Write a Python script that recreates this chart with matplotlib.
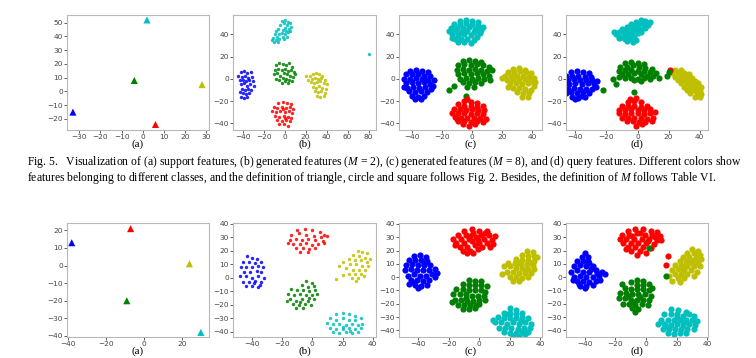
import matplotlib
matplotlib.use("Agg")
import matplotlib.pyplot as plt

# ---------------- data ----------------
# top row, panel (a): support features (one triangle per class)
top_a_x = [2, -4, 28, -33, 6]
top_a_y = [52, 8, 5, -15, -24]
top_a_c = ['c', 'g', 'y', 'b', 'r']

# top row, panel (b): generated features (M = 2)
top_b_cyan = [(-3,52),(0,53),(3,51),(5,50),(-1,50),(2,48),(6,47),(-4,48),(0,46),(4,45),(-2,44),(1,43),(-6,45),(-8,43),(-3,41),
              (3,42),(-5,40),(0,40),(-9,40),(-7,38),(-2,38),(-11,37),(-5,36),(-8,35),(-1,36),(-10,33),(-6,33),(2,38),(5,43),(-12,35),(80,22)]
top_b_green = [(-8,12),(-5,14),(-2,13),(1,12),(4,14),(7,11),(-9,8),(-6,9),(-3,8),(0,9),(3,7),(6,8),(9,6),(-10,4),(-7,5),(-4,3),
               (-1,5),(2,4),(5,3),(8,2),(-8,0),(-5,-1),(-2,1),(1,0),(4,-1),(7,-2),(-3,-4),(3,-4),(0,-2),(10,4)]
top_b_blue = [(-42,6),(-39,7),(-36,5),(-32,6),(-44,3),(-41,2),(-38,3),(-35,1),(-31,2),(-43,-1),(-40,-1),(-37,-2),(-34,-1),(-30,-2),
              (-42,-5),(-39,-4),(-36,-6),(-33,-5),(-29,-6),(-41,-9),(-38,-10),(-35,-9),(-32,-10),(-43,-12),(-40,-13),(-37,-14),
              (-34,-13),(-42,-16),(-39,-17),(-36,-16)]
top_b_yellow = [(24,3),(27,4),(30,5),(33,4),(36,3),(26,0),(29,1),(32,0),(35,1),(38,-1),(25,-3),(28,-4),(31,-3),(34,-2),(37,-4),
                (40,-5),(27,-7),(30,-8),(33,-6),(36,-8),(39,-9),(29,-11),(32,-12),(35,-11),(38,-13),(31,-15),(34,-16),(37,-15),(20,3),(22,-1)]
top_b_red = [(-6,-22),(-2,-21),(2,-22),(6,-23),(-10,-25),(-7,-26),(-3,-25),(1,-26),(5,-25),(8,-27),(-12,-29),(-8,-30),(-4,-29),
             (0,-30),(4,-29),(7,-31),(-9,-33),(-5,-34),(-1,-33),(3,-34),(6,-35),(-7,-37),(-3,-38),(1,-37),(5,-38),(-5,-41),(-1,-41),
             (3,-42),(0,-35),(-2,-27)]

# top row, panel (c): generated features (M = 8)
top_c_cyan = [(-8,52),(-4,53),(0,52),(4,51),(-12,49),(-8,49),(-4,50),(0,49),(4,48),(7,47),(-14,46),(-10,46),(-6,46),(-2,47),(2,45),
              (6,44),(-15,43),(-11,43),(-7,42),(-3,43),(1,42),(5,41),(-13,40),(-9,39),(-5,40),(-1,39),(3,38),(-11,36),(-7,36),(-3,36),
              (1,35),(-9,33),(-5,33),(-1,32),(-13,37),(3,44)]
top_c_green = [(-6,16),(-2,17),(2,16),(6,15),(-9,12),(-5,13),(-1,12),(3,13),(7,12),(11,11),(-10,8),(-6,9),(-2,8),(2,9),(6,8),(10,7),
               (13,8),(-9,4),(-5,5),(-1,4),(3,5),(7,4),(11,3),(-8,0),(-4,1),(0,0),(4,1),(8,0),(12,-1),(-6,-3),(-2,-4),(2,-3),(6,-4),
               (-3,-7),(1,-7),(-12,-6),(-15,-10),(-4,-15)]
top_c_blue = [(-41,7),(-37,8),(-33,7),(-29,6),(-44,4),(-40,4),(-36,4),(-32,3),(-28,3),(-45,0),(-41,0),(-37,1),(-33,0),(-29,-1),
              (-25,-1),(-44,-4),(-40,-3),(-36,-4),(-32,-3),(-28,-5),(-43,-8),(-39,-7),(-35,-8),(-31,-7),(-27,-9),(-42,-11),(-38,-12),
              (-34,-11),(-30,-12),(-40,-15),(-36,-16),(-32,-15),(-38,-18),(-34,-18),(-26,-6),(-45,-7)]
top_c_yellow = [(27,9),(31,10),(35,8),(24,6),(28,6),(32,7),(36,6),(39,5),(22,3),(26,3),(30,3),(34,3),(38,2),(41,1),(23,-1),(27,0),
                (31,-1),(35,0),(39,-2),(42,-3),(25,-4),(29,-4),(33,-5),(37,-4),(41,-6),(27,-8),(31,-8),(35,-9),(39,-10),(30,-12),
                (34,-13),(38,-13),(33,-16),(37,-16),(20,1),(24,-7)]
top_c_red = [(-5,-20),(-1,-21),(3,-22),(-9,-23),(-5,-24),(-1,-24),(3,-25),(7,-24),(-12,-27),(-8,-27),(-4,-28),(0,-27),(4,-28),(8,-28),
             (-13,-31),(-9,-31),(-5,-31),(-1,-32),(3,-31),(7,-32),(-11,-34),(-7,-35),(-3,-35),(1,-35),(5,-35),(9,-36),(-9,-38),(-5,-38),
             (-1,-39),(3,-38),(7,-39),(-6,-41),(-2,-42),(2,-41),(-3,-18),(-10,-36)]

# top row, panel (d): query features
top_d_cyan = [(2,53),(5,52),(8,51),(-1,51),(3,50),(6,49),(-4,49),(0,48),(4,47),(-7,47),(-3,46),(1,45),(5,46),(-10,45),(-6,44),(-2,43),
              (2,42),(-12,42),(-8,41),(-4,40),(0,41),(-14,40),(-10,38),(-6,38),(-2,38),(-12,37),(-8,36),(-4,36),(-1,35),(-7,34),(-3,33),
              (7,48),(-15,42),(-9,43),(-5,42),(-1,47)]
top_d_green = [(-8,14),(-4,15),(0,14),(4,13),(-11,11),(-7,11),(-3,12),(1,11),(5,10),(9,9),(-12,7),(-8,8),(-4,8),(0,7),(4,7),(8,6),
               (-10,4),(-6,4),(-2,5),(2,4),(6,3),(10,3),(-8,1),(-4,1),(0,0),(4,1),(8,0),(-12,2),(-2,-1),(2,-2),(-16,0),(-22,-10),
               (12,5),(14,1),(-2,-12),(-14,-5),(20,6),(19,3)]
top_d_blue = [(-43,6),(-39,7),(-35,6),(-31,5),(-46,3),(-42,3),(-38,3),(-34,2),(-30,2),(-45,-1),(-41,0),(-37,-1),(-33,-1),(-29,-1),
              (-26,-2),(-44,-5),(-40,-4),(-36,-5),(-32,-4),(-28,-5),(-45,-9),(-41,-8),(-37,-9),(-33,-9),(-29,-9),(-43,-12),(-39,-13),
              (-35,-12),(-31,-13),(-42,-16),(-38,-17),(-34,-16),(-40,-18),(-27,-7),(-46,-13),(-36,-15)]
top_d_yellow = [(24,8),(28,8),(22,5),(26,5),(30,5),(33,4),(24,2),(28,2),(32,1),(35,1),(26,-1),(30,-1),(34,-2),(37,-2),(28,-4),(32,-4),
                (36,-5),(39,-4),(30,-7),(34,-7),(38,-8),(41,-7),(32,-10),(36,-10),(40,-11),(34,-13),(38,-13),(41,-14),(37,-16),(40,-16),
                (27,6),(31,3),(35,-5),(29,0),(33,-9),(39,-12)]
top_d_red = [(-1,-17),(-6,-21),(-2,-20),(2,-21),(-10,-24),(-6,-24),(-2,-24),(2,-25),(6,-24),(-12,-28),(-8,-28),(-4,-27),(0,-28),(4,-28),
             (8,-27),(-12,-31),(-8,-32),(-4,-31),(0,-31),(4,-32),(8,-31),(11,-30),(-10,-35),(-6,-35),(-2,-35),(2,-35),(6,-36),(10,-35),
             (-7,-38),(-3,-38),(1,-39),(5,-39),(-1,-42),(3,-41),(9,-38),(-5,-18),(21,8)]

# bottom row, panel (a)
bot_a_x = [-7, -38, 24, -9, 30]
bot_a_y = [21, 13, 1, -20, -38]
bot_a_c = ['r', 'b', 'y', 'g', 'c']

# bottom row, panel (b)
bot_b_red = [(-10,35),(-5,36),(0,35),(5,34),(8,32),(-14,32),(-9,33),(-4,32),(1,31),(6,30),(10,31),(-15,28),(-11,29),(-7,28),(-3,29),
             (2,28),(7,27),(-13,25),(-8,25),(-4,26),(0,24),(4,25),(8,26),(-11,22),(-6,22),(-2,21),(2,22),(-8,19),(-3,19),(-16,26)]
bot_b_blue = [(-43,16),(-40,15),(-37,14),(-46,12),(-42,12),(-38,11),(-34,12),(-47,8),(-44,8),(-40,8),(-36,9),(-33,8),(-45,4),(-41,4),
              (-37,5),(-34,4),(-48,1),(-44,1),(-40,0),(-36,1),(-32,0),(-46,-3),(-42,-3),(-38,-2),(-34,-3),(-44,-6),(-40,-6),(-36,-7),
              (-39,-4),(-35,-5)]
bot_b_yellow = [(30,20),(33,19),(36,18),(27,17),(31,16),(35,15),(24,14),(28,13),(32,13),(36,12),(20,12),(25,10),(29,10),(33,9),(37,9),
                (18,9),(22,7),(27,6),(31,6),(35,6),(24,3),(28,3),(32,3),(26,0),(30,0),(16,-1),(20,2),(29,-2),(34,1),(38,14)]
bot_b_green = [(-4,-2),(0,-4),(-7,-5),(-3,-7),(1,-6),(-14,-8),(-10,-9),(-6,-9),(-2,-10),(2,-9),(-16,-12),(-12,-13),(-8,-12),(-4,-13),
               (0,-13),(3,-12),(-15,-16),(-11,-17),(-7,-16),(-3,-17),(1,-16),(-13,-19),(-9,-20),(-5,-19),(-1,-20),(-11,-22),(-6,-22),
               (-17,-17),(-2,-15),(-8,-18)]
bot_b_cyan = [(16,-27),(20,-26),(24,-27),(28,-28),(12,-30),(16,-31),(20,-30),(24,-31),(28,-31),(32,-30),(10,-33),(14,-34),(18,-34),
              (22,-35),(26,-34),(30,-35),(33,-34),(12,-37),(16,-38),(20,-38),(24,-37),(28,-38),(32,-37),(14,-40),(18,-41),(22,-40),
              (26,-41),(30,-40),(20,-36),(25,-39)]

# bottom row, panel (c)
bot_c_red = [(-10,35),(-5,36),(0,35),(5,35),(-14,32),(-9,32),(-4,33),(1,32),(6,32),(10,31),(-17,29),(-12,29),(-7,29),(-2,30),(3,29),
             (8,28),(-15,26),(-10,26),(-5,27),(0,26),(5,26),(9,25),(-13,23),(-8,23),(-3,24),(2,23),(7,23),(-11,20),(-6,20),(-1,21),
             (-8,18),(-4,18),(-16,24),(4,33),(-1,28),(-6,31)]
bot_c_blue = [(-43,16),(-39,17),(-35,15),(-46,13),(-42,13),(-38,13),(-34,12),(-48,9),(-44,10),(-40,9),(-36,9),(-32,9),(-49,5),(-45,6),
              (-41,5),(-37,5),(-33,5),(-29,6),(-47,1),(-43,2),(-39,1),(-35,1),(-31,2),(-45,-2),(-41,-2),(-37,-3),(-33,-2),(-42,-6),
              (-38,-7),(-34,-6),(-29,0),(-46,-5),(-40,-8),(-36,11),(-28,3),(-44,-4)]
bot_c_yellow = [(31,20),(35,19),(28,17),(32,16),(36,16),(24,14),(28,13),(32,13),(36,12),(38,15),(19,11),(23,11),(27,10),(31,10),(35,9),
                (16,8),(20,8),(24,7),(28,7),(32,6),(36,6),(18,4),(22,4),(26,3),(30,3),(34,3),(20,0),(24,0),(28,-1),(32,0),(22,-3),
                (26,-3),(15,2),(30,5),(25,11),(34,11)]
bot_c_green = [(-7,-2),(-3,-3),(1,-3),(-11,-5),(-7,-6),(-3,-6),(1,-6),(5,-7),(-15,-9),(-11,-9),(-7,-10),(-3,-10),(1,-10),(4,-11),
               (-17,-13),(-13,-13),(-9,-13),(-5,-14),(-1,-14),(3,-14),(-16,-17),(-12,-17),(-8,-18),(-4,-18),(0,-17),(4,-17),(-14,-21),
               (-10,-21),(-6,-21),(-2,-21),(-11,-24),(-7,-24),(-18,-19),(-3,-23),(0,-20),(-9,-16)]
bot_c_cyan = [(20,-23),(24,-25),(16,-27),(20,-27),(24,-28),(28,-27),(12,-30),(16,-31),(20,-31),(24,-31),(28,-30),(32,-31),(10,-34),
              (14,-34),(18,-35),(22,-34),(26,-35),(30,-34),(34,-35),(13,-38),(17,-38),(21,-38),(25,-39),(29,-38),(33,-38),(16,-41),
              (20,-42),(24,-42),(28,-41),(32,-41),(22,-44),(26,-44),(9,-32),(18,-28),(27,-33),(30,-43)]

# bottom row, panel (d)
bot_d_red = [(-12,35),(-7,36),(-2,36),(3,35),(7,34),(-16,32),(-11,32),(-6,33),(-1,32),(4,32),(9,31),(-17,29),(-13,29),(-8,29),(-3,29),
             (2,29),(7,28),(10,28),(-15,26),(-10,26),(-5,26),(0,26),(5,25),(-12,23),(-7,23),(-2,23),(3,22),(-10,20),(-4,20),(-13,21),
             (0,18),(-6,17),(6,30),(-4,33),(-9,31),(1,27),(14,16),(13,9)]
bot_d_blue = [(-40,18),(-42,15),(-38,15),(-45,12),(-41,12),(-37,11),(-47,8),(-43,9),(-39,8),(-35,8),(-49,4),(-45,5),(-41,4),(-37,4),
              (-33,5),(-29,4),(-47,0),(-43,1),(-39,0),(-35,0),(-31,1),(-27,2),(-45,-3),(-41,-3),(-37,-4),(-33,-3),(-43,-7),(-39,-7),
              (-35,-6),(-48,-2),(-30,-2),(-38,12),(-44,-5),(-40,-8),(-32,3),(-36,6)]
bot_d_yellow = [(30,21),(34,20),(27,18),(31,18),(35,17),(24,15),(28,15),(32,14),(36,14),(22,12),(26,12),(30,11),(34,11),(19,9),(23,9),
                (27,8),(31,8),(35,8),(17,5),(21,6),(25,5),(29,5),(33,4),(19,2),(23,2),(27,2),(31,1),(21,-1),(25,-1),(17,-3),(22,-4),
                (15,1),(29,12),(33,16),(26,9),(24,6)]
bot_d_green = [(-6,-2),(-2,-3),(-10,-4),(-6,-6),(-2,-6),(2,-5),(-14,-8),(-10,-9),(-6,-9),(-2,-9),(2,-10),(-17,-12),(-13,-12),(-9,-13),
               (-5,-13),(-1,-13),(3,-14),(-18,-16),(-14,-16),(-10,-17),(-6,-17),(-2,-17),(2,-17),(-15,-20),(-11,-20),(-7,-21),(-3,-20),
               (1,-21),(-9,-23),(-5,-24),(-7,-26),(4,-8),(-12,-14),(-4,-15),(-8,-19),(-16,-5),(2,22),(13,1)]
bot_d_cyan = [(16,-24),(21,-25),(26,-26),(12,-28),(16,-28),(20,-28),(24,-29),(28,-28),(31,-29),(10,-32),(14,-32),(18,-32),(22,-32),
              (26,-32),(30,-32),(33,-33),(8,-35),(12,-35),(16,-36),(20,-35),(24,-36),(28,-35),(32,-36),(11,-39),(15,-39),(19,-39),
              (23,-39),(27,-39),(31,-39),(14,-42),(18,-43),(22,-42),(26,-42),(20,-30),(25,-34),(13,-37)]

labels = ["(a)", "(b)", "(c)", "(d)"]
caption_1 = ("Fig. 5.   Visualization of (a) support features, (b) generated features ($M$ = 2), (c) generated features "
             "($M$ = 8), and (d) query features. Different colors show")
caption_2 = ("features belonging to different classes, and the definition of triangle, circle and square follows Fig. 2. "
             "Besides, the definition of $M$ follows Table VI.")

# ---------------- figure ----------------
W, H = 756, 358
plt.rcParams['mathtext.fontset'] = 'custom'
plt.rcParams['mathtext.it'] = 'Liberation Serif:italic'
plt.rcParams['mathtext.rm'] = 'Liberation Serif'
fig = plt.figure(figsize=(W / 100, H / 100), dpi=100)


def make_ax(left, top, width, height):
    ax = fig.add_axes([left / W, 1 - (top + height) / H, width / W, height / H])
    for s in ax.spines.values():
        s.set_color('#b8b8b8')
        s.set_linewidth(0.8)
    ax.tick_params(labelsize=5.3, length=2, width=0.6, pad=1, colors='#444444')
    return ax


def clusters(ax, groups, size, alpha):
    for pts, col in groups:
        ax.scatter([p[0] for p in pts], [p[1] for p in pts], s=size, c=col, alpha=alpha, linewidths=0)


lefts = [67, 233, 399, 566]
widths = [142, 143, 143, 142]

# top row
ax = make_ax(lefts[0], 15, widths[0], 115)
ax.scatter(top_a_x, top_a_y, c=top_a_c, marker='^', s=26, linewidths=0)
ax.set_xlim(-35.8, 31.3); ax.set_ylim(-28, 55.6)
ax.set_xticks(range(-30, 31, 10)); ax.set_yticks(range(-20, 51, 10))

ax = make_ax(lefts[1], 15, widths[1], 115)
clusters(ax, [(top_b_cyan, 'c'), (top_b_green, 'g'), (top_b_blue, 'b'), (top_b_yellow, 'y'), (top_b_red, 'r')], 6, 0.85)
ax.set_xlim(-49.2, 87); ax.set_ylim(-46, 57.4)
ax.set_xticks(range(-40, 81, 20)); ax.set_yticks(range(-40, 41, 20))

ax = make_ax(lefts[2], 15, widths[2], 115)
clusters(ax, [(top_c_cyan, 'c'), (top_c_green, 'g'), (top_c_blue, 'b'), (top_c_yellow, 'y'), (top_c_red, 'r')], 20, 1)
ax.set_xlim(-48.4, 46.4); ax.set_ylim(-46, 57.4)
ax.set_xticks(range(-40, 41, 20)); ax.set_yticks(range(-40, 41, 20))

ax = make_ax(lefts[3], 15, widths[3], 115)
clusters(ax, [(top_d_cyan, 'c'), (top_d_blue, 'b'), (top_d_yellow, 'y'), (top_d_red, 'r'), (top_d_green, 'g')], 20, 1)
ax.set_xlim(-46, 45.3); ax.set_ylim(-46, 57.4)
ax.set_xticks(range(-40, 41, 20)); ax.set_yticks(range(-40, 41, 20))

# bottom row
ax = make_ax(lefts[0], 223, widths[0], 114)
ax.scatter(bot_a_x, bot_a_y, c=bot_a_c, marker='^', s=26, linewidths=0)
ax.set_xlim(-40.5, 34.3); ax.set_ylim(-40.6, 24.2)
ax.set_xticks(range(-40, 21, 20)); ax.set_yticks(range(-40, 21, 10))

ax = make_ax(lefts[1], 223, widths[1], 114)
clusters(ax, [(bot_b_red, 'r'), (bot_b_blue, 'b'), (bot_b_yellow, 'y'), (bot_b_green, 'g'), (bot_b_cyan, 'c')], 6, 0.85)
ax.set_xlim(-52.6, 42.2); ax.set_ylim(-43.7, 40.5)
ax.set_xticks(range(-40, 41, 20)); ax.set_yticks(range(-40, 41, 10))

ax = make_ax(lefts[2], 223, widths[2], 114)
clusters(ax, [(bot_c_red, 'r'), (bot_c_blue, 'b'), (bot_c_yellow, 'y'), (bot_c_green, 'g'), (bot_c_cyan, 'c')], 20, 1)
ax.set_xlim(-52.6, 41); ax.set_ylim(-45, 40.7)
ax.set_xticks(range(-40, 41, 20)); ax.set_yticks(range(-40, 41, 10))

ax = make_ax(lefts[3], 223, widths[3], 114)
clusters(ax, [(bot_d_blue, 'b'), (bot_d_yellow, 'y'), (bot_d_cyan, 'c'), (bot_d_red, 'r'), (bot_d_green, 'g')], 20, 1)
ax.set_xlim(-52.3, 40.4); ax.set_ylim(-45, 40.7)
ax.set_xticks(range(-40, 41, 20)); ax.set_yticks(range(-40, 41, 10))

# sub-labels and caption
serif = ['Liberation Serif', 'DejaVu Serif']
for i, lab in enumerate(labels):
    cx = (lefts[i] + widths[i] / 2) / W
    fig.text(cx, 1 - 144.5 / H, lab, ha='center', va='center', fontsize=8, family=serif)
    fig.text(cx, 1 - 351 / H, lab, ha='center', va='center', fontsize=8, family=serif)

fig.text(27 / W, 1 - 162.5 / H, caption_1, ha='left', va='center', fontsize=8.4, family=serif)
fig.text(27 / W, 1 - 177.5 / H, caption_2, ha='left', va='center', fontsize=8.4, family=serif)

fig.savefig("out.png", dpi=100)
